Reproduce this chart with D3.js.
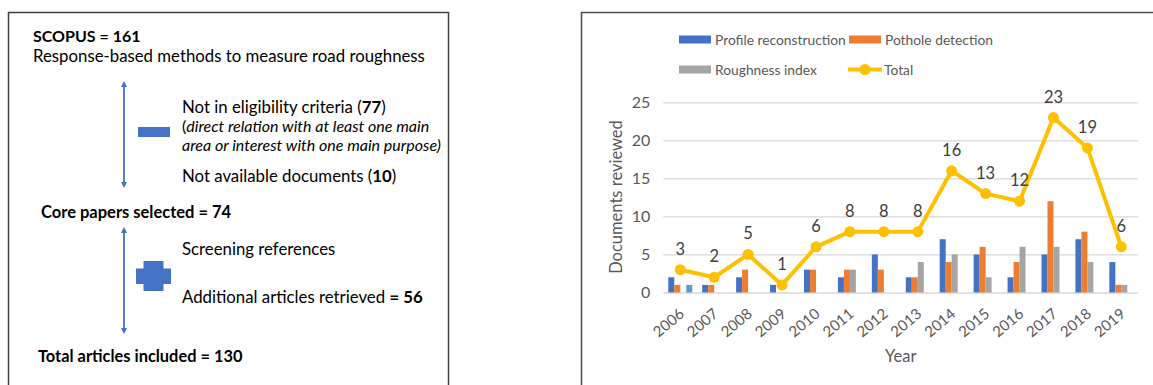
<!DOCTYPE html>
<html>
<head>
<meta charset="utf-8">
<script src="https://cdn.jsdelivr.net/npm/d3@7"></script>
<style>
  html, body { margin: 0; padding: 0; background: #fff; }
  svg { display: block; }
  text { font-family: Lato, "Noto Sans", sans-serif; }
</style>
</head>
<body>
<svg id="fig" width="1153" height="385"></svg>
<script>
// Publications per year by research topic
const years = ["2006","2007","2008","2009","2010","2011","2012","2013","2014","2015","2016","2017","2018","2019"];
const profileReconstruction = [2,1,2,1,3,2,5,2,7,5,2,5,7,4];
const potholeDetection      = [1,1,3,0,3,3,3,2,4,6,4,12,8,1];
const roughnessIndex        = [0,0,0,0,0,3,0,4,5,2,6,6,4,1];
const unclassified          = [1,0,0,0,0,0,0,0,0,0,0,0,0,0];
const totals                = [3,2,5,1,6,8,8,8,16,13,12,23,19,6];
const yTicks = [0,5,10,15,20,25];

const seriesNames  = ["Profile reconstruction","Pothole detection","Roughness index",""];
const seriesColors = ["#4472c4","#ed7d31","#a5a5a5","#5b9bd5"];
const seriesValues = [profileReconstruction, potholeDetection, roughnessIndex, unclassified];
const totalColor = "#ffc000";

const svg = d3.select("#fig");
const blue = "#4472c4";
const textGrey = "#595959";

/* ---------- left panel: selection flow ---------- */
const left = svg.append("g");
left.append("path")
  .attr("d", "M8.5,385 V12.5 H448.5 V385")
  .attr("fill", "none").attr("stroke", "#404040").attr("stroke-width", 1.5);

function rich(g, x, y, parts, size) {
  const t = g.append("text").attr("x", x).attr("y", y)
    .attr("font-size", size).attr("fill", "#000");
  parts.forEach(p => {
    t.append("tspan").text(p.t)
      .attr("font-weight", p.b ? 700 : 400)
      .attr("font-style", p.i ? "italic" : "normal");
  });
  return t;
}

rich(left, 33, 42, [{t:"SCOPUS = 161", b:true}], 16);
rich(left, 33, 62, [{t:"Response-based methods to measure road roughness"}], 16.8);
rich(left, 182, 113, [{t:"Not in eligibility criteria ("},{t:"77",b:true},{t:")"}], 16.8);
rich(left, 182, 132, [{t:"("},{t:"direct relation with at least one main",i:true}], 16);
rich(left, 182, 151, [{t:"area or interest with one main purpose)",i:true}], 16);
rich(left, 182, 182, [{t:"Not available documents ("},{t:"10",b:true},{t:")"}], 16.8);
rich(left, 41, 218, [{t:"Core papers selected = 74", b:true}], 16.5);
rich(left, 182, 255, [{t:"Screening references"}], 16.8);
rich(left, 182, 303, [{t:"Additional articles retrieved "},{t:"= 56",b:true}], 16.8);
rich(left, 38, 362, [{t:"Total articles included = 130", b:true}], 16.4);

function doubleArrow(g, x, y1, y2) {
  g.append("line").attr("x1", x).attr("x2", x).attr("y1", y1 + 4).attr("y2", y2 - 4)
    .attr("stroke", blue).attr("stroke-width", 1.8);
  g.append("path").attr("d", `M${x},${y1} L${x-3},${y1+6} L${x+3},${y1+6} Z`).attr("fill", blue);
  g.append("path").attr("d", `M${x},${y2} L${x-3},${y2-6} L${x+3},${y2-6} Z`).attr("fill", blue);
}
doubleArrow(left, 124, 81, 188);
doubleArrow(left, 124, 227, 334);

left.append("rect").attr("x", 138).attr("y", 127).attr("width", 32).attr("height", 10).attr("fill", blue);
left.append("path")
  .attr("d", "M143.5,261 H163.5 V268.5 H171 V284 H163.5 V291 H143.5 V284 H136 V268.5 H143.5 Z")
  .attr("fill", blue);

/* ---------- right panel: documents per year ---------- */
const right = svg.append("g");
right.append("path")
  .attr("d", "M581.5,385 V12.5 H1153")
  .attr("fill", "none").attr("stroke", "#505050").attr("stroke-width", 1.6);

const plot = { left: 663.3, right: 1138.3, top: 102.3, bottom: 292.5 };

const x = d3.scaleBand().domain(years).range([plot.left, plot.right]).paddingInner(0).paddingOuter(0);
const y = d3.scaleLinear().domain([0, 25]).range([plot.bottom, plot.top]);
const groupWidth = x.bandwidth() * 0.707;
const xSub = d3.scaleBand().domain(d3.range(seriesValues.length))
  .range([0, groupWidth]).padding(0);

// gridlines and y tick labels
const yAxis = d3.axisLeft(y).tickValues(yTicks).tickSize(-(plot.right - plot.left)).tickPadding(13);
const yg = right.append("g").attr("transform", `translate(${plot.left},0)`).call(yAxis);
yg.select(".domain").remove();
yg.selectAll(".tick line").attr("stroke", "#d9d9d9").attr("stroke-width", 1.3);
yg.selectAll(".tick text").attr("fill", textGrey).attr("font-size", 16)
  .attr("font-family", "Lato, 'Noto Sans', sans-serif");

// x tick labels, rotated
const xAxis = d3.axisBottom(x).tickSize(0).tickPadding(0);
const xg = right.append("g").attr("transform", `translate(0,${plot.bottom})`).call(xAxis);
xg.select(".domain").remove();
xg.selectAll(".tick text")
  .attr("fill", textGrey).attr("font-size", 15)
  .attr("font-family", "Lato, 'Noto Sans', sans-serif")
  .attr("text-anchor", "end")
  .attr("dy", null)
  .attr("transform", "translate(5,23) rotate(-40)");

// grouped bars
const barLayer = right.append("g");
seriesValues.forEach((vals, si) => {
  barLayer.selectAll(null).data(years).enter().append("rect")
    .attr("x", d => x(d) + (x.bandwidth() - groupWidth) / 2 + xSub(si))
    .attr("width", xSub.bandwidth())
    .attr("y", (d, i) => y(vals[i]))
    .attr("height", (d, i) => y(0) - y(vals[i]))
    .attr("fill", seriesColors[si]);
});

// total line with markers and labels
const cx = d => x(d) + x.bandwidth() / 2;
const line = d3.line().x((d, i) => cx(years[i])).y(d => y(d));
right.append("path").datum(totals).attr("d", line)
  .attr("fill", "none").attr("stroke", totalColor).attr("stroke-width", 4)
  .attr("stroke-linejoin", "round");
right.selectAll(null).data(totals).enter().append("circle")
  .attr("cx", (d, i) => cx(years[i])).attr("cy", d => y(d)).attr("r", 5.5)
  .attr("fill", totalColor);
right.selectAll(null).data(totals).enter().append("text")
  .attr("x", (d, i) => cx(years[i])).attr("y", d => y(d) - 15)
  .attr("text-anchor", "middle").attr("font-size", 16.5).attr("fill", "#404040")
  .text(d => d);

// axis titles
right.append("text")
  .attr("transform", `translate(622,197) rotate(-90)`)
  .attr("text-anchor", "middle").attr("font-size", 16.5).attr("fill", textGrey)
  .text("Documents reviewed");
right.append("text")
  .attr("x", (plot.left + plot.right) / 2).attr("y", 362)
  .attr("text-anchor", "middle").attr("font-size", 16.5).attr("fill", textGrey)
  .text("Year");

// legend
const legendItems = [
  { name: seriesNames[0], color: seriesColors[0], kind: "bar", x: 679, y: 39.5 },
  { name: seriesNames[1], color: seriesColors[1], kind: "bar", x: 849, y: 39.5 },
  { name: seriesNames[2], color: seriesColors[2], kind: "bar", x: 679, y: 69.5 },
  { name: "Total",        color: totalColor,      kind: "line", x: 848, y: 69.5 }
];
const lg = right.append("g");
legendItems.forEach(it => {
  if (it.kind === "bar") {
    lg.append("rect").attr("x", it.x).attr("y", it.y - 4).attr("width", 32).attr("height", 8)
      .attr("fill", it.color);
  } else {
    lg.append("line").attr("x1", it.x).attr("x2", it.x + 34).attr("y1", it.y).attr("y2", it.y)
      .attr("stroke", it.color).attr("stroke-width", 4);
    lg.append("circle").attr("cx", it.x + 17).attr("cy", it.y).attr("r", 5.5).attr("fill", it.color);
  }
  lg.append("text").attr("x", it.x + 36).attr("y", it.y + 5.5)
    .attr("font-size", 13.8).attr("fill", textGrey).text(it.name);
});
</script>
</body>
</html>
